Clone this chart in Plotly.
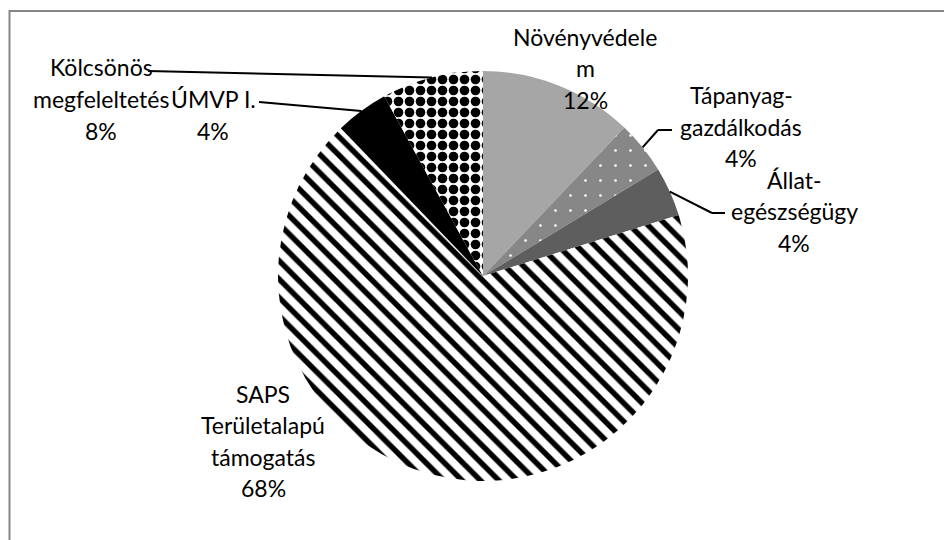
import math
import plotly.graph_objects as go

# ---- data ----
categories = ["Növényvédelem", "Tápanyag-gazdálkodás", "Állat-egészségügy",
              "SAPS Területalapú támogatás", "ÚMVP I.", "Kölcsönös megfeleltetés"]
values = [12.1, 4.2, 3.9, 67.6, 4.2, 8.0]
label_lines = [["Növényvédele", "m"], ["Tápanyag-", "gazdálkodás"], ["Állat-", "egészségügy"],
               ["SAPS", "Területalapú", "támogatás"], ["ÚMVP I."], ["Kölcsönös", "megfeleltetés"]]

# ---- styles / layout (page pixel coordinates; page has an 8px body margin) ----
W, H = 952, 540
OFF = 8
CX, CY, R = 483, 276, 205
colors = ["#a6a6a6", "#878787", "#5e5e5e", "#ffffff", "#000000", "#ffffff"]
pat_shape = ["", ".", "", "\\", "", "."]
pat_fg = ["#a6a6a6", "#ffffff", "#5e5e5e", "#000000", "#000000", "#000000"]
pat_bg = ["#a6a6a6", "#878787", "#5e5e5e", "#ffffff", "#000000", "#ffffff"]
pat_size = [8, 15, 8, 13, 8, 11]
pat_sol = [0.3, 0.025, 0.3, 0.42, 0.3, 0.6]
label_pos = [(585, 68), (741, 127), (794, 211), (263, 441), (213, 115), (101, 99)]
LINE_H = 31.5
FONT = dict(family="Lato", size=23, color="#000000")


def px(x):
    return (x - OFF) / W


def py(y):
    return 1 - (y - OFF) / H


fig = go.Figure(go.Pie(
    labels=categories, values=values, sort=False, direction="clockwise", rotation=0,
    textinfo="none", hoverinfo="label+percent", showlegend=False,
    marker=dict(colors=colors, line=dict(width=0),
                pattern=dict(shape=pat_shape, fgcolor=pat_fg, bgcolor=pat_bg,
                             size=pat_size, solidity=pat_sol)),
    domain=dict(x=[px(CX - R), px(CX + R)], y=[py(CY + R), py(CY - R)]),
))

total = sum(values)
pcts = [round(v / total * 100) for v in values]

annotations = []
for (lx, ly), lines, p in zip(label_pos, label_lines, pcts):
    all_lines = lines + [f"{p}%"]
    n = len(all_lines)
    for i, t in enumerate(all_lines):
        yy = ly + (i - (n - 1) / 2) * LINE_H
        annotations.append(dict(x=px(lx), y=py(yy), xref="paper", yref="paper", text=t,
                                showarrow=False, xanchor="center", yanchor="middle", font=FONT))

# slice mid-angle edge points from data
edges = []
cum = 0
for v in values:
    mid = (cum + v / 2) / total * 2 * math.pi
    edges.append((CX + R * math.sin(mid), CY - R * math.cos(mid)))
    cum += v

shapes = [dict(type="rect", xref="paper", yref="paper", x0=px(9.5), x1=px(947), y0=py(11),
               y1=-0.05, line=dict(color="#868686", width=2), fillcolor="rgba(0,0,0,0)",
               layer="below")]

leader_paths = {
    1: [(672, 130), (658, 130)],
    2: [(725, 213), (712, 213)],
    4: [(259, 102)],
    5: [(148, 71)],
}
for idx, pts in leader_paths.items():
    pts = pts + [edges[idx]]
    for (x0, y0), (x1, y1) in zip(pts[:-1], pts[1:]):
        shapes.append(dict(type="line", xref="paper", yref="paper", x0=px(x0), y0=py(y0),
                           x1=px(x1), y1=py(y1), line=dict(color="#000000", width=2)))

fig.update_layout(width=W, height=H, margin=dict(l=0, r=0, t=0, b=0),
                  paper_bgcolor="#ffffff", plot_bgcolor="#ffffff",
                  annotations=annotations, shapes=shapes)
fig.write_html("out.html")
